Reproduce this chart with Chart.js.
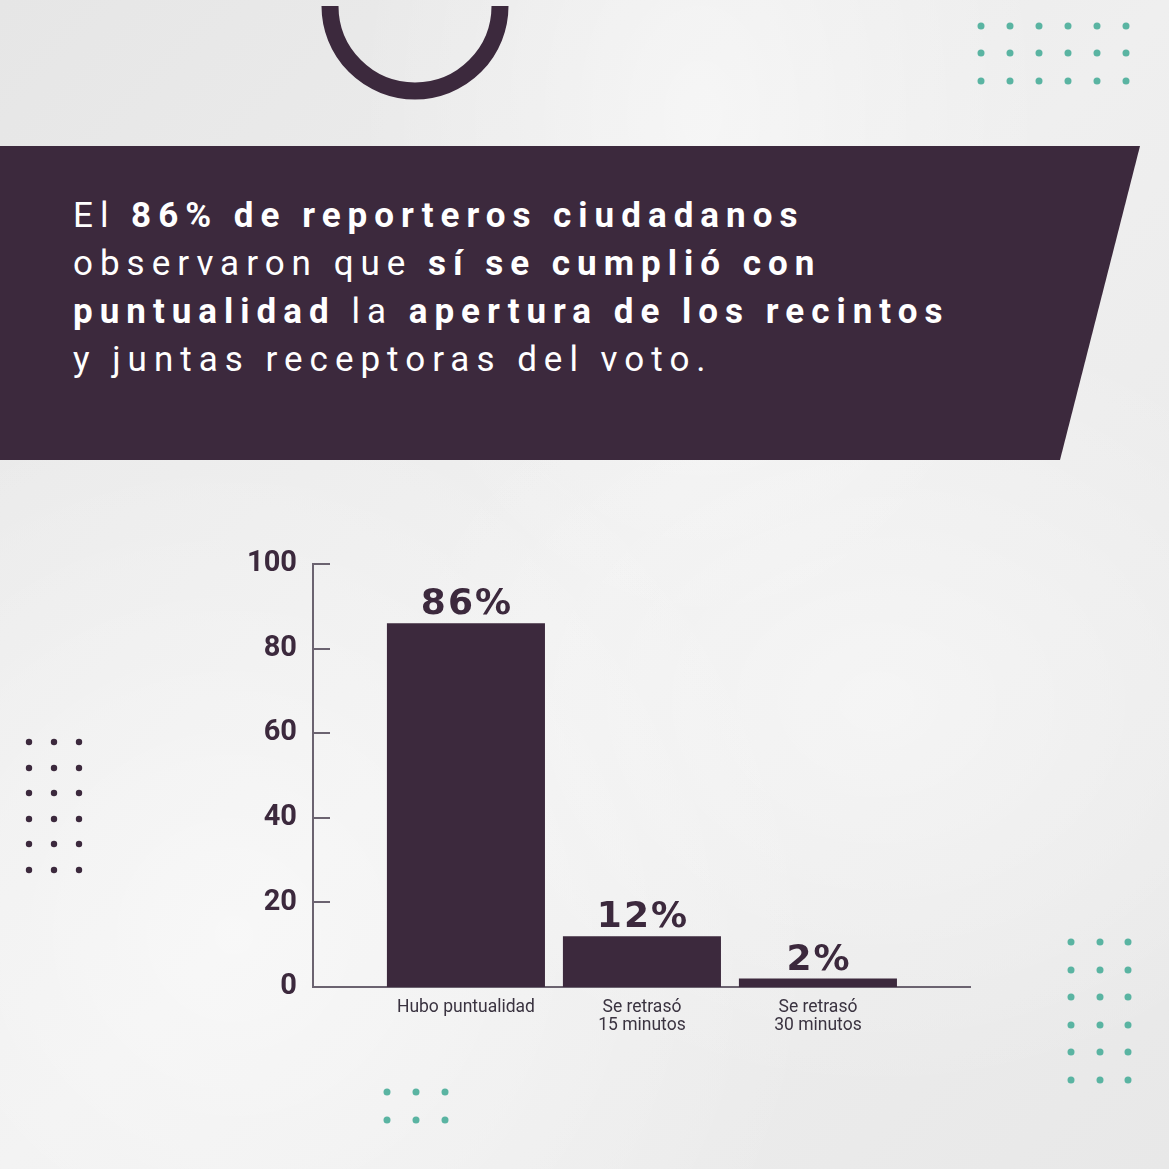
<!DOCTYPE html>
<html>
<head>
<meta charset="utf-8">
<script src="https://cdn.jsdelivr.net/npm/chart.js@4.4.1/dist/chart.umd.min.js"></script>
<style>
  html, body { margin: 0; padding: 0; }
  body { width: 1169px; height: 1169px; position: relative; overflow: hidden;
    background: #ebebeb;
    background-image:
      radial-gradient(ellipse at 20% 80%, rgba(255,255,255,0.55), rgba(255,255,255,0) 45%),
      radial-gradient(ellipse at 75% 60%, rgba(255,255,255,0.45), rgba(255,255,255,0) 40%),
      radial-gradient(ellipse at 60% 10%, rgba(255,255,255,0.5), rgba(255,255,255,0) 35%),
      linear-gradient(135deg, #e6e6e6, #efefef 50%, #e8e8e8);
  }
  #banner { position: absolute; left: 0; top: 146px; width: 1140px; height: 314px;
    background: #3c293d; clip-path: polygon(0 0, 1140px 0, 1060px 314px, 0 314px); }
  #title { position: absolute; left: 73px; top: 192px; color: #ffffff;
    font-family: Roboto, sans-serif; font-size: 35px; letter-spacing: 7px; line-height: 48px; white-space: nowrap; }
  #title b { font-weight: 700; }
  #title span { font-weight: 400; }
  svg.deco { position: absolute; left: 0; top: 0; }
  #chart { position: absolute; left: 0; top: 0; }
</style>
</head>
<body>
<svg class="deco" width="1169" height="1169" id="deco"></svg>
<div id="banner"></div>
<div id="title">
  <div><span>El </span><b>86% de reporteros ciudadanos</b></div>
  <div><span>observaron que </span><b>sí se cumplió con</b></div>
  <div><b>puntualidad</b><span> la </span><b>apertura de los recintos</b></div>
  <div><span>y juntas receptoras del voto.</span></div>
</div>
<canvas id="chart" width="1169" height="1169"></canvas>
<script>
// ---- data ----
const categories = ['Hubo puntualidad', ['Se retrasó', '15 minutos'], ['Se retrasó', '30 minutos']];
const values = [86, 12, 2];
const valueLabels = ['86%', '12%', '2%'];
const yTickValues = [0, 20, 40, 60, 80, 100];

// ---- decorations ----
(function () {
  const svg = document.getElementById('deco');
  const ns = 'http://www.w3.org/2000/svg';
  function dot(cx, cy, r, fill) {
    const c = document.createElementNS(ns, 'circle');
    c.setAttribute('cx', cx); c.setAttribute('cy', cy); c.setAttribute('r', r); c.setAttribute('fill', fill);
    svg.appendChild(c);
  }
  const teal = '#5ab4a2', dark = '#3c293d';
  [981, 1010, 1039, 1068, 1097, 1126].forEach(x => [26, 53, 81].forEach(y => dot(x, y, 3.5, teal)));
  [29, 54, 79].forEach(x => [742, 768, 793, 819, 844, 870].forEach(y => dot(x, y, 3.2, dark)));
  [1071, 1100, 1128].forEach(x => [942, 970, 997, 1025, 1052, 1080].forEach(y => dot(x, y, 3.5, teal)));
  [387, 416, 445].forEach(x => [1092, 1120].forEach(y => dot(x, y, 3.5, teal)));
  const p = document.createElementNS(ns, 'path');
  p.setAttribute('d', 'M 330 6 A 85 85 0 0 0 500 6');
  p.setAttribute('stroke', dark); p.setAttribute('stroke-width', '17'); p.setAttribute('fill', 'none');
  svg.appendChild(p);
})();

const dark = '#3c293d';
const axisColor = '#6b6370';

const innerTicks = {
  id: 'innerTicks',
  afterDraw(chart) {
    const ctx = chart.ctx, y = chart.scales.y, left = chart.chartArea.left;
    ctx.save();
    ctx.strokeStyle = axisColor; ctx.lineWidth = 2;
    y.ticks.forEach(t => {
      if (t.value === 0) return;
      const py = Math.round(y.getPixelForValue(t.value));
      ctx.beginPath(); ctx.moveTo(left, py); ctx.lineTo(left + 17, py); ctx.stroke();
    });
    ctx.restore();
  }
};

const barLabels = {
  id: 'barLabels',
  afterDatasetsDraw(chart) {
    const ctx = chart.ctx;
    const meta = chart.getDatasetMeta(0);
    ctx.save();
    ctx.fillStyle = dark;
    ctx.font = 'bold 36px "DejaVu Sans", sans-serif';
    ctx.textBaseline = 'alphabetic';
    ctx.textAlign = 'left';
    if ('letterSpacing' in ctx) ctx.letterSpacing = '2px';
    meta.data.forEach((bar, i) => {
      const txt = valueLabels[i];
      const w = ctx.measureText(txt).width - 2;
      ctx.fillText(txt, bar.x - w / 2, bar.y - 9);
    });
    ctx.restore();
  }
};

new Chart(document.getElementById('chart'), {
  type: 'bar',
  data: {
    datasets: [{
      data: values.map((v, i) => ({ x: i, y: v })),
      backgroundColor: dark,
      borderWidth: 0,
      barPercentage: 0.898,
      categoryPercentage: 1.0
    }]
  },
  options: {
    responsive: false,
    devicePixelRatio: 1,
    animation: false,
    layout: { padding: { left: 233, top: 564, right: 199, bottom: 122 } },
    plugins: { legend: { display: false }, tooltip: { enabled: false } },
    scales: {
      x: {
        type: 'linear',
        bounds: 'data',
        offset: false,
        min: -0.869, max: 2.864,
        afterFit(s) { s.height = 60; },
        afterBuildTicks(s) { s.ticks = categories.map((c, i) => ({ value: i })); },
        grid: { display: false, drawTicks: false, offset: false },
        border: { display: true, color: axisColor, width: 2 },
        ticks: {
          autoSkip: false, maxRotation: 0, minRotation: 0,
          padding: 12, color: '#3a3340',
          font: { family: 'Roboto', size: 17.5, lineHeight: 1.0 },
          callback: (v) => (categories[v] !== undefined) ? categories[v] : ''
        }
      },
      y: {
        min: 0, max: 100,
        afterFit(s) { s.width = 80; },
        grid: { display: false, drawTicks: false },
        border: { display: true, color: axisColor, width: 2 },
        afterBuildTicks(s) { s.ticks = yTickValues.map(v => ({ value: v })); },
        ticks: {
          padding: 16, color: dark,
          font: { family: 'Roboto', size: 29, weight: 'bold' }
        }
      }
    }
  },
  plugins: [innerTicks, barLabels]
});
</script>
</body>
</html>
